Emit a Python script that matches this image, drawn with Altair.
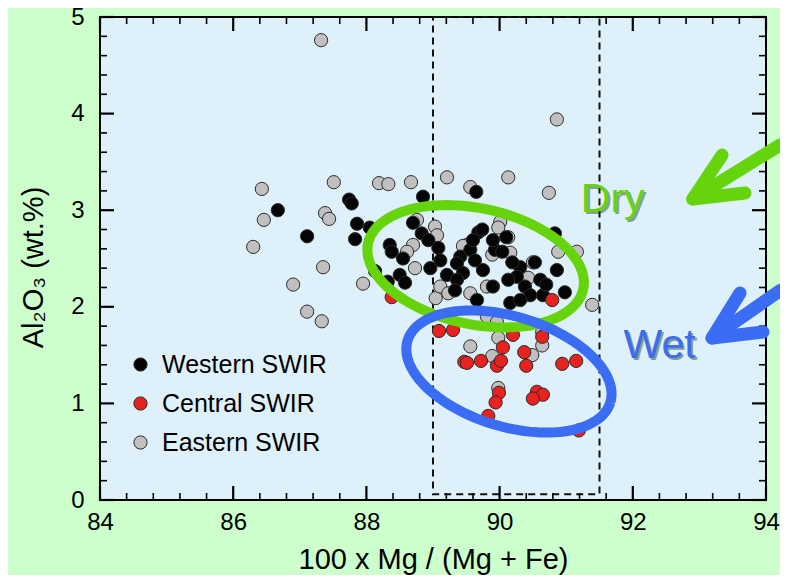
import altair as alt
import pandas as pd
import numpy as np

# ---------------- data ----------------
series_names = ["Western SWIR", "Central SWIR", "Eastern SWIR"]

west_x = [86.67, 87.11, 87.74, 87.78, 87.86, 88.05, 87.83, 88.13, 88.85, 88.70,
          88.83, 88.93, 88.35, 88.38, 88.55, 88.50, 88.58, 89.08, 89.11, 88.96,
          89.21, 89.41, 89.36, 89.56, 89.63, 89.68, 89.60, 89.45, 89.36, 89.66,
          89.75, 89.65, 89.74, 89.93, 90.04, 90.31, 90.26, 90.13, 89.90, 90.38,
          90.46, 90.16, 90.65, 90.83, 90.86, 90.98, 89.90, 90.10, 90.19, 90.53,
          90.61, 90.70, 88.32, 89.33, 90.31]
west_y = [3.00, 2.73, 3.11, 3.07, 2.86, 2.82, 2.70, 2.37, 3.14, 2.87,
          2.76, 2.69, 2.64, 2.57, 2.50, 2.33, 2.25, 2.61, 2.48, 2.40,
          2.33, 2.52, 2.45, 2.59, 2.48, 2.77, 2.69, 2.35, 2.28, 2.07,
          2.38, 3.19, 2.80, 2.59, 2.57, 2.41, 2.31, 2.28, 2.21, 2.21,
          2.12, 2.04, 2.12, 2.76, 2.38, 2.15, 2.69, 2.72, 2.46, 2.46,
          2.28, 2.23, 2.26, 2.17, 2.07]

cent_x = [88.38, 89.09, 89.30, 89.47, 89.51, 89.72, 89.96, 90.02, 90.05, 90.20,
          90.37, 90.40, 90.64, 90.94, 91.15, 89.99, 89.94, 89.83, 90.56, 90.65,
          90.50, 91.19, 90.79]
cent_y = [2.10, 1.75, 1.76, 1.43, 1.42, 1.44, 1.39, 1.44, 1.58, 1.71,
          1.53, 1.39, 1.69, 1.41, 1.44, 1.11, 1.01, 0.87, 1.12, 1.09,
          1.05, 0.72, 2.07]

east_x = [87.32, 90.86, 86.43, 87.51, 88.19, 88.33, 88.67, 89.21, 87.38, 87.44,
          86.46, 86.30, 87.35, 86.90, 87.95, 87.11, 87.33, 89.04, 89.56, 90.13,
          90.74, 88.76, 89.03, 89.06, 88.70, 88.61, 88.73, 89.11, 89.51, 89.56,
          89.23, 89.81, 90.01, 89.98, 90.13, 89.89, 90.16, 90.50, 90.43, 90.88,
          91.16, 91.39, 89.56, 89.89, 89.98, 90.49, 90.64, 89.98, 89.81, 89.96,
          90.64, 89.45]
east_y = [4.76, 3.94, 3.22, 3.29, 3.28, 3.27, 3.29, 3.34, 2.97, 2.91,
          2.90, 2.62, 2.41, 2.23, 2.24, 1.95, 1.85, 2.09, 3.24, 3.34,
          3.18, 2.90, 2.83, 2.74, 2.64, 2.57, 2.40, 2.21, 2.64, 2.14,
          2.14, 2.21, 2.88, 2.82, 2.72, 2.54, 2.56, 2.46, 2.30, 2.57,
          2.57, 2.02, 1.59, 1.49, 1.68, 1.50, 1.60, 1.16, 1.90, 1.84,
          1.74, 2.63]

x_major = [84, 86, 88, 90, 92, 94]
y_major = [0, 1, 2, 3, 4, 5]
x_minor = [round(84 + 0.4 * i, 1) for i in range(26) if i % 5 != 0]
y_minor = [round(0.2 * i, 1) for i in range(26) if i % 5 != 0]

# dashed box around the narrow Mg# range
box_x = [89.0, 91.5]
box_y = [0.06, 5.0]

# ---------------- layout ----------------
W, H = 666, 483
XD, YD = [84, 94], [0, 5]
PX, PY = W / (XD[1] - XD[0]), H / (YD[1] - YD[0])
FONT = "Liberation Sans, Arial, Helvetica, sans-serif"

xs = alt.Scale(domain=XD, nice=False, zero=False)
ys = alt.Scale(domain=YD, nice=False, zero=False)
xaxis = alt.Axis(values=x_major, title="100 x Mg / (Mg + Fe)", grid=False, ticks=False,
                 tickSize=0, domain=False, labelFontSize=24, labelPadding=10,
                 titleFontSize=29, titleFontWeight="normal", titlePadding=11,
                 labelFont=FONT, titleFont=FONT, labelColor="#000", titleColor="#000",
                 format="d", labelFlush=False)
yaxis = alt.Axis(values=y_major, title="Al₂O₃ (wt.%)", grid=False, ticks=False,
                 tickSize=0, domain=False, labelFontSize=24, labelPadding=16,
                 titleFontSize=29, titleFontWeight="normal", titlePadding=22,
                 titleY=250,
                 labelFont=FONT, titleFont=FONT, labelColor="#000", titleColor="#000",
                 format="d", labelFlush=False)


def X(f="x"):
    return alt.X(f"{f}:Q", scale=xs, axis=xaxis)


def Y(f="y"):
    return alt.Y(f"{f}:Q", scale=ys, axis=yaxis)


# ---------------- plot background / frame (data-anchored) ----------------
frame = alt.Chart(pd.DataFrame({"x": [XD[0]], "x2": [XD[1]], "y": [YD[0]], "y2": [YD[1]]})).mark_rect(
    fill="#def1fa", stroke="#000", strokeWidth=2
).encode(x=X("x"), x2="x2", y=Y("y"), y2="y2")

# ---------------- points ----------------
pts = pd.concat([
    pd.DataFrame({"x": east_x, "y": east_y, "series": "Eastern SWIR", "z": 0}),
    pd.DataFrame({"x": west_x, "y": west_y, "series": "Western SWIR", "z": 1}),
    pd.DataFrame({"x": cent_x, "y": cent_y, "series": "Central SWIR", "z": 2}),
], ignore_index=True)

points = alt.Chart(pts).mark_circle(size=175, opacity=1, stroke="#2a2a2a", strokeWidth=1).encode(
    x=X(), y=Y(),
    color=alt.Color("series:N",
                    scale=alt.Scale(domain=series_names, range=["#050505", "#e8221e", "#c0c0c0"]),
                    legend=alt.Legend(title=None, orient="none", legendX=28, legendY=335,
                                      labelFontSize=25, labelFont=FONT, labelColor="#000",
                                      labelLimit=400,
                                      symbolSize=175, symbolType="circle",
                                      symbolStrokeColor="#2a2a2a", symbolStrokeWidth=1,
                                      symbolOpacity=1, rowPadding=13, labelOffset=9,
                                      padding=0)),
    order=alt.Order("z:Q"),
)

# ---------------- dashed box ----------------
box = alt.Chart(pd.DataFrame({"x": [box_x[0]], "x2": [box_x[1]], "y": [box_y[0]], "y2": [box_y[1]]})).mark_rect(
    fillOpacity=0, stroke="#111", strokeDash=[7, 5], strokeWidth=2
).encode(x=X("x"), x2="x2", y=Y("y"), y2="y2")


# ---------------- ellipses ----------------
def ellipse(cx, cy, a, b, deg, n=120):
    t = np.linspace(0, 2 * np.pi, n)
    th = np.radians(deg)
    dx = a * np.cos(t) * np.cos(th) - b * np.sin(t) * np.sin(th)
    dy = a * np.cos(t) * np.sin(th) + b * np.sin(t) * np.cos(th)
    return pd.DataFrame({"x": cx + dx / PX, "y": cy - dy / PY, "o": np.arange(n)})


green = "#66d40c"
blue = "#3a6cf4"

ell_g = alt.Chart(ellipse(89.64, 2.42, 110, 58, 12)).mark_line(
    strokeWidth=10, color=green).encode(x=X(), y=Y(), order="o:Q")
ell_b = alt.Chart(ellipse(90.14, 1.33, 106, 55, 17)).mark_line(
    strokeWidth=10, color=blue).encode(x=X(), y=Y(), order="o:Q")


# ---------------- arrows ----------------
def arrow(tail, tip, b1, b2):
    rows = [
        {"x": tail[0], "y": tail[1], "seg": "s", "o": 0},
        {"x": tip[0], "y": tip[1], "seg": "s", "o": 1},
        {"x": b1[0], "y": b1[1], "seg": "h", "o": 0},
        {"x": tip[0], "y": tip[1], "seg": "h", "o": 1},
        {"x": b2[0], "y": b2[1], "seg": "h", "o": 2},
    ]
    return pd.DataFrame(rows)


arr_g = alt.Chart(arrow((94.21, 3.675), (92.90, 3.116), (93.34, 3.571), (93.685, 3.178))).mark_line(
    strokeWidth=13, color=green, strokeCap="round", strokeJoin="round"
).encode(x=X(), y=Y(), detail="seg:N", order="o:Q")
arr_b = alt.Chart(arrow((94.21, 2.168), (93.19, 1.677), (93.61, 2.143), (93.955, 1.739))).mark_line(
    strokeWidth=13, color=blue, strokeCap="round", strokeJoin="round"
).encode(x=X(), y=Y(), detail="seg:N", order="o:Q")

# ---------------- labels ----------------
lab_df = pd.DataFrame({"x": [91.22, 91.86], "y": [2.98, 1.47], "t": ["Dry", "Wet"]})
lab_shadow = alt.Chart(lab_df).mark_text(
    font=FONT, fontSize=41, align="left", baseline="alphabetic", dx=2, dy=2,
    color="#1a3a1a", opacity=0.45
).encode(x=X(), y=Y(), text="t:N")
lab_dry = alt.Chart(lab_df.iloc[[0]]).mark_text(
    font=FONT, fontSize=41, align="left", baseline="alphabetic", color=green
).encode(x=X(), y=Y(), text="t:N")
lab_wet = alt.Chart(lab_df.iloc[[1]]).mark_text(
    font=FONT, fontSize=41, align="left", baseline="alphabetic", color=blue
).encode(x=X(), y=Y(), text="t:N")


# ---------------- inward ticks (data-anchored) ----------------
def xticks(vals, length, width):
    L = length / PY
    bot = pd.DataFrame({"x": vals, "y": YD[0], "y2": YD[0] + L})
    top = pd.DataFrame({"x": vals, "y": YD[1], "y2": YD[1] - L})
    return [alt.Chart(d).mark_rule(color="#000", strokeWidth=width).encode(
        x=X("x"), y=Y("y"), y2="y2") for d in (bot, top)]


def yticks(vals, length, width):
    L = length / PX
    left = pd.DataFrame({"y": vals, "x": XD[0], "x2": XD[0] + L})
    right = pd.DataFrame({"y": vals, "x": XD[1], "x2": XD[1] - L})
    return [alt.Chart(d).mark_rule(color="#000", strokeWidth=width).encode(
        y=Y("y"), x=X("x"), x2="x2") for d in (left, right)]


ticks = (xticks(x_major, 14, 2.2) + xticks(x_minor, 7, 1.6) +
         yticks(y_major, 14, 2.2) + yticks(y_minor, 7, 1.6))

chart = alt.layer(
    frame, box, *ticks, points, ell_g, ell_b, arr_g, arr_b, lab_shadow, lab_dry, lab_wet
).properties(
    width=W, height=H,
    background="#ccffcc",
    padding={"left": 92, "top": 9, "right": 14, "bottom": 75},
    autosize=alt.AutoSizeParams(type="none"),
).configure_view(
    stroke=None
)

chart.save("out.html", embed_options={"renderer": "svg", "actions": False})
